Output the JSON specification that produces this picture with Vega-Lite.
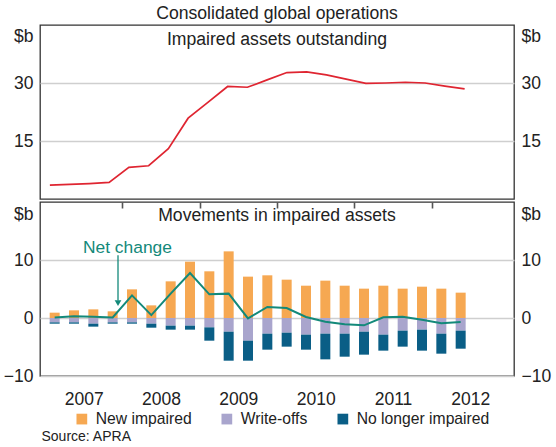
{
  "$schema": "https://vega.github.io/schema/vega-lite/v6.json",
  "background": "white",
  "padding": {"left": 2, "top": 5, "right": 8, "bottom": 4},
  "title": {"text": "Consolidated global operations", "fontSize": 17.6, "fontWeight": "normal", "color": "#222", "anchor": "middle", "frame": "group", "baseline": "alphabetic", "offset": -12.5},
  "config": {
    "font": "Liberation Sans",
    "view": {"stroke": "#333", "strokeWidth": 1.3},
    "axis": {"labelFont": "Liberation Sans", "labelFontSize": 17.5, "labelColor": "#222", "titleFont": "Liberation Sans", "titleFontSize": 17.5, "titleFontWeight": "normal", "titleColor": "#222", "domain": false, "ticks": false, "gridColor": "#cfcfcf", "gridWidth": 1.3, "labelPadding": 7},
    "legend": {"orient": "none", "legendX": 34, "legendY": 386, "direction": "horizontal", "symbolType": "square", "symbolSize": 115, "symbolStrokeWidth": 0, "labelFont": "Liberation Sans", "labelFontSize": 15.7, "labelColor": "#222", "labelOffset": 6, "columnPadding": 27, "padding": 0},
    "title": {"font": "Liberation Sans"}
  },
  "datasets": {
    "outstanding": [
      {"q": 2007.125, "v": 3.6}, {"q": 2007.375, "v": 3.8}, {"q": 2007.625, "v": 4.0}, {"q": 2007.875, "v": 4.3},
      {"q": 2008.125, "v": 8.2}, {"q": 2008.375, "v": 8.6}, {"q": 2008.625, "v": 13.0}, {"q": 2008.875, "v": 20.9},
      {"q": 2009.125, "v": 25.0}, {"q": 2009.375, "v": 29.1}, {"q": 2009.625, "v": 28.9}, {"q": 2009.875, "v": 30.8},
      {"q": 2010.125, "v": 32.7}, {"q": 2010.375, "v": 32.9}, {"q": 2010.625, "v": 32.1}, {"q": 2010.875, "v": 31.0},
      {"q": 2011.125, "v": 29.9}, {"q": 2011.375, "v": 30.0}, {"q": 2011.625, "v": 30.2}, {"q": 2011.875, "v": 30.0},
      {"q": 2012.125, "v": 29.2}, {"q": 2012.375, "v": 28.5}
    ],
    "movements": [
      {"q": 2007.125, "New impaired": 0.92, "Write-offs": -0.75, "No longer impaired": -0.23, "Net": 0.1},
      {"q": 2007.375, "New impaired": 1.32, "Write-offs": -0.75, "No longer impaired": -0.23, "Net": 0.3},
      {"q": 2007.625, "New impaired": 1.49, "Write-offs": -0.98, "No longer impaired": -0.51, "Net": 0.2},
      {"q": 2007.875, "New impaired": 1.15, "Write-offs": -0.75, "No longer impaired": -0.23, "Net": 0.1},
      {"q": 2008.125, "New impaired": 4.94, "Write-offs": -0.75, "No longer impaired": -0.23, "Net": 3.9},
      {"q": 2008.375, "New impaired": 2.18, "Write-offs": -0.98, "No longer impaired": -0.69, "Net": 0.5},
      {"q": 2008.625, "New impaired": 6.32, "Write-offs": -1.32, "No longer impaired": -0.69, "Net": 4.2},
      {"q": 2008.875, "New impaired": 9.71, "Write-offs": -1.32, "No longer impaired": -0.69, "Net": 7.76},
      {"q": 2009.125, "New impaired": 8.05, "Write-offs": -1.61, "No longer impaired": -2.3, "Net": 4.08},
      {"q": 2009.375, "New impaired": 11.49, "Write-offs": -2.36, "No longer impaired": -5.0, "Net": 4.2},
      {"q": 2009.625, "New impaired": 7.13, "Write-offs": -3.91, "No longer impaired": -3.45, "Net": -0.06},
      {"q": 2009.875, "New impaired": 7.36, "Write-offs": -2.7, "No longer impaired": -2.76, "Net": 1.9},
      {"q": 2010.125, "New impaired": 6.61, "Write-offs": -2.53, "No longer impaired": -2.41, "Net": 1.72},
      {"q": 2010.375, "New impaired": 5.57, "Write-offs": -2.87, "No longer impaired": -2.59, "Net": 0.17},
      {"q": 2010.625, "New impaired": 6.44, "Write-offs": -2.7, "No longer impaired": -4.43, "Net": -0.63},
      {"q": 2010.875, "New impaired": 5.57, "Write-offs": -2.7, "No longer impaired": -3.97, "Net": -1.09},
      {"q": 2011.125, "New impaired": 5.06, "Write-offs": -2.36, "No longer impaired": -3.96, "Net": -1.26},
      {"q": 2011.375, "New impaired": 5.57, "Write-offs": -2.87, "No longer impaired": -2.76, "Net": 0.11},
      {"q": 2011.625, "New impaired": 5.06, "Write-offs": -2.18, "No longer impaired": -2.76, "Net": 0.23},
      {"q": 2011.875, "New impaired": 5.4, "Write-offs": -2.01, "No longer impaired": -3.62, "Net": -0.29},
      {"q": 2012.125, "New impaired": 5.06, "Write-offs": -2.7, "No longer impaired": -3.45, "Net": -0.92},
      {"q": 2012.375, "New impaired": 4.37, "Write-offs": -2.18, "No longer impaired": -3.11, "Net": -0.69}
    ],
    "note": [
      {"x": 2007.944, "top": 10.8, "bottom": 3.0, "tip": 2.55, "tx": 2008.066, "ty": 12.1, "label": "Net change"}
    ],
    "heads": [
      {"panel": "top", "x": 2010, "y": 41.2, "label": "Impaired assets outstanding"},
      {"panel": "bottom", "x": 2010, "y": 17.55, "label": "Movements in impaired assets"}
    ]
  },
  "spacing": 0,
  "vconcat": [
    {
      "width": 474,
      "height": 174,
      "layer": [
        {
          "data": {"name": "outstanding"},
          "mark": {"type": "line", "color": "#df2531", "strokeWidth": 1.7},
          "encoding": {
            "x": {"field": "q", "type": "quantitative", "scale": {"domain": [2007, 2013], "nice": false, "zero": false}, "axis": null},
            "y": {"field": "v", "type": "quantitative", "scale": {"domain": [0, 45], "nice": false}, "axis": {"orient": "left", "values": [15, 30], "title": "$b", "titleAngle": 0, "titleAlign": "right", "titleBaseline": "middle", "titleX": -7, "titleY": 11.5}}
          }
        },
        {
          "data": {"name": "outstanding"},
          "mark": {"type": "line", "strokeOpacity": 0},
          "encoding": {
            "x": {"field": "q", "type": "quantitative", "axis": null},
            "y": {"field": "v", "type": "quantitative", "axis": {"orient": "right", "values": [15, 30], "grid": false, "title": "$b", "titleAngle": 0, "titleAlign": "left", "titleBaseline": "middle", "titleX": 7, "titleY": 11.5}}
          }
        },
        {
          "data": {"name": "heads"},
          "transform": [{"filter": "datum.panel === 'top'"}],
          "mark": {"type": "text", "fontSize": 17.6, "color": "#222", "align": "center", "baseline": "middle"},
          "encoding": {
            "x": {"field": "x", "type": "quantitative", "axis": null},
            "y": {"field": "y", "type": "quantitative", "axis": null},
            "text": {"field": "label"}
          }
        }
      ],
      "resolve": {"axis": {"y": "independent"}}
    },
    {
      "width": 474,
      "height": 174,
      "layer": [
        {
          "data": {"name": "movements"},
          "transform": [{"fold": ["New impaired", "Write-offs", "No longer impaired"], "as": ["series", "val"]}],
          "mark": {"type": "bar", "width": 10},
          "encoding": {
            "x": {"field": "q", "type": "quantitative", "scale": {"domain": [2007, 2013], "nice": false, "zero": false},
                  "axis": {"values": [2007.5, 2008.5, 2009.5, 2010.5, 2011.5, 2012.5], "labelExpr": "'' + floor(datum.value)", "grid": false, "labelPadding": 14.5, "title": "Source: APRA", "titleFontSize": 14, "titleAlign": "left", "titleBaseline": "middle", "titleX": 1, "titleY": 60}},
            "y": {"field": "val", "type": "quantitative", "stack": "zero", "scale": {"domain": [-10, 20], "nice": false},
                  "axis": {"orient": "left", "values": [-10, 0, 10], "title": "$b", "titleAngle": 0, "titleAlign": "right", "titleBaseline": "middle", "titleX": -7, "titleY": 12}},
            "color": {"field": "series", "type": "nominal", "scale": {"domain": ["New impaired", "Write-offs", "No longer impaired"], "range": ["#f6a852", "#a9a5cd", "#0a5e86"]}, "legend": {"title": null}},
            "order": {"field": "series", "sort": "descending"}
          }
        },
        {
          "mark": {"type": "rule", "color": "#333", "strokeWidth": 1.3},
          "encoding": {"y": {"datum": 0, "axis": null}}
        },
        {
          "data": {"name": "movements"},
          "mark": {"type": "line", "color": "#13897a", "strokeWidth": 2},
          "encoding": {
            "x": {"field": "q", "type": "quantitative",
                  "axis": {"values": [2008, 2009, 2010, 2011, 2012], "labels": false, "ticks": true, "tickSize": -6, "tickWidth": 1.6, "tickColor": "#555", "grid": false, "title": null}},
            "y": {"field": "Net", "type": "quantitative",
                  "axis": {"orient": "right", "values": [-10, 0, 10], "grid": false, "title": "$b", "titleAngle": 0, "titleAlign": "left", "titleBaseline": "middle", "titleX": 7, "titleY": 12}}
          }
        },
        {
          "data": {"name": "note"},
          "mark": {"type": "rule", "color": "#13897a", "strokeWidth": 1.3},
          "encoding": {
            "x": {"field": "x", "type": "quantitative", "axis": null},
            "y": {"field": "top", "type": "quantitative", "axis": null},
            "y2": {"field": "bottom"}
          }
        },
        {
          "data": {"name": "note"},
          "mark": {"type": "point", "shape": "triangle-down", "filled": true, "color": "#13897a", "size": 45, "opacity": 1},
          "encoding": {
            "x": {"field": "x", "type": "quantitative", "axis": null},
            "y": {"field": "tip", "type": "quantitative", "axis": null}
          }
        },
        {
          "data": {"name": "note"},
          "mark": {"type": "text", "color": "#13897a", "fontSize": 17.4, "align": "center", "baseline": "middle"},
          "encoding": {
            "x": {"field": "tx", "type": "quantitative", "axis": null},
            "y": {"field": "ty", "type": "quantitative", "axis": null},
            "text": {"field": "label"}
          }
        },
        {
          "data": {"name": "heads"},
          "transform": [{"filter": "datum.panel === 'bottom'"}],
          "mark": {"type": "text", "fontSize": 17.6, "color": "#222", "align": "center", "baseline": "middle"},
          "encoding": {
            "x": {"field": "x", "type": "quantitative", "axis": null},
            "y": {"field": "y", "type": "quantitative", "axis": null},
            "text": {"field": "label"}
          }
        }
      ],
      "resolve": {"axis": {"x": "independent", "y": "independent"}}
    }
  ]
}
